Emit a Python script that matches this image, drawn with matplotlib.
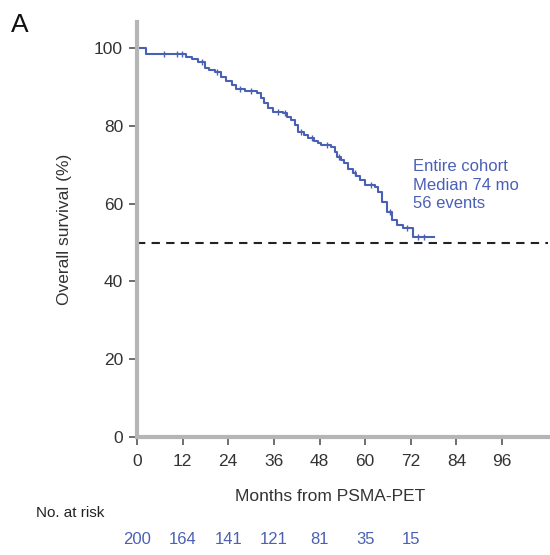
import numpy as np
import matplotlib
matplotlib.use('Agg')
import matplotlib.pyplot as plt

plt.rcParams['font.family'] = ['Liberation Sans', 'DejaVu Sans']

# Kaplan-Meier steps (months, % surviving)
km_time = [0, 2.5, 13, 14.5, 16, 18, 19, 20.5, 22, 23.5, 25, 26, 27.5, 28.5, 31.5,
           32.5, 33.5, 34.5, 35.8, 38.5, 39.5, 40.5, 41.5, 42.3, 44, 45, 46.5, 47.5,
           48.3, 51, 52, 52.7, 53.6, 54.3, 55.5, 56.7, 57.7, 58.7, 60, 62.7, 63.4,
           64.5, 65.8, 67, 68.4, 70, 72.6, 78]
km_surv = [100, 98.5, 97.8, 97.2, 96.4, 95, 94.3, 93.8, 92.6, 91.5, 90.5, 89.6, 89.4,
           89.0, 88.4, 87.2, 85.9, 84.5, 83.5, 83.3, 82.2, 81.4, 80.2, 78.4, 77.6,
           77.0, 76.2, 75.6, 75.0, 74.5, 73.2, 72.0, 71.2, 70.4, 69.0, 67.9, 67.0,
           66.0, 64.8, 64.3, 63.0, 60.4, 57.8, 55.8, 54.5, 53.7, 51.4, 51.4]
# censor marks
cens_time = [7, 10.5, 11.8, 17, 21, 27, 30, 37, 39, 43, 46, 50, 53, 57.2, 61.5,
             66.5, 71, 74, 75.5]

xticks = [0, 12, 24, 36, 48, 60, 72, 84, 96]
yticks = [0, 20, 40, 60, 80, 100]
risk_time = [0, 12, 24, 36, 48, 60, 72]
at_risk = [200, 164, 141, 121, 81, 35, 15]

blue = '#4a60b5'
txt = '#333333'

fig = plt.figure(figsize=(5.5, 5.55), dpi=100)
ax = fig.add_axes([0.249, 0.2126, 0.747, 0.7477])

ax.step(km_time, km_surv, where='post', color=blue, lw=1.5)
cens_y = [km_surv[np.searchsorted(km_time, t, side='right') - 1] for t in cens_time]
ax.plot(cens_time, cens_y, ls='none', marker='|', ms=5, mew=1.0, color=blue)

ax.axhline(50, color='#222222', lw=1.5, ls=(0, (4, 3)))

ax.set_xlim(0, 108)
ax.set_ylim(0, 106.7)
ax.set_xticks(xticks)
ax.set_yticks(yticks)
ax.tick_params(axis='both', direction='out', length=6, width=1.2, color='#555555',
               labelsize=12.5, labelcolor=txt)
ax.tick_params(axis='x', pad=6)
ax.tick_params(axis='y', pad=4)
for s in ['top', 'right']:
    ax.spines[s].set_visible(False)
for s in ['left', 'bottom']:
    ax.spines[s].set_color('#b5b5b5')
    ax.spines[s].set_linewidth(3)

ax.set_xlabel('Months from PSMA-PET', fontsize=12.5, color=txt)
ax.xaxis.set_label_coords(0.47, -0.125)
ax.set_ylabel('Overall survival (%)', fontsize=12.5, color=txt, labelpad=16)

ax.text(72.5, 71.5, 'Entire cohort\nMedian 74 mo\n56 events', color=blue,
        fontsize=12, va='top', ha='left', linespacing=1.3)

tr = ax.get_xaxis_transform()
ax.text(-17.5, -0.183, 'No. at risk', transform=tr, ha='center', va='center',
        fontsize=11, color='#222222', clip_on=False)
for t, n in zip(risk_time, at_risk):
    ax.text(t, -0.248, str(n), transform=tr, ha='center', va='center',
            fontsize=12, color=blue, clip_on=False)

fig.text(0.02, 0.955, 'A', fontsize=19, color='#111111', ha='left', va='center')

fig.savefig('out.png', dpi=100)
